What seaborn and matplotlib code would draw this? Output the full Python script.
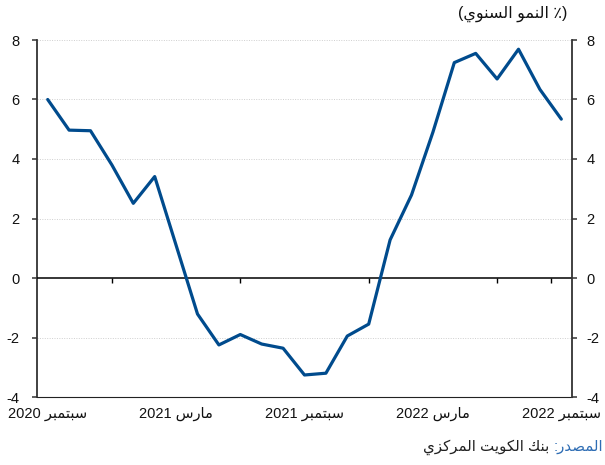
import re
import numpy as np
import pandas as pd
import matplotlib
matplotlib.use("Agg")
import matplotlib.pyplot as plt
import seaborn as sns

# ---------------- data ----------------
months = ["2020-09", "2020-10", "2020-11", "2020-12", "2021-01", "2021-02",
          "2021-03", "2021-04", "2021-05", "2021-06", "2021-07", "2021-08",
          "2021-09", "2021-10", "2021-11", "2021-12", "2022-01", "2022-02",
          "2022-03", "2022-04", "2022-05", "2022-06", "2022-07", "2022-08",
          "2022-09"]
growth = [6.0, 4.97, 4.95, 3.8, 2.51, 3.41, 1.1, -1.21, -2.25, -1.9, -2.22,
          -2.36, -3.26, -3.2, -1.95, -1.55, 1.28, 2.79, 4.9, 7.24, 7.55, 6.69,
          7.69, 6.34, 5.34]
tick_months = ["2020-09", "2021-03", "2021-09", "2022-03", "2022-09"]
tick_labels = ["سبتمبر 2020", "مارس 2021", "سبتمبر 2021", "مارس 2022", "سبتمبر 2022"]
y_ticks = [-4, -2, 0, 2, 4, 6, 8]
title_text = "(٪ النمو السنوي)"
source_label = "المصدر:"
source_text = "بنك الكويت المركزي"

# ------------- minimal Arabic shaping + RTL ordering -------------
FORMS = {
    "\u0627": ("\uFE8D", "\uFE8E", None, None),
    "\u0628": ("\uFE8F", "\uFE90", "\uFE91", "\uFE92"),
    "\u062A": ("\uFE95", "\uFE96", "\uFE97", "\uFE98"),
    "\u062F": ("\uFEA9", "\uFEAA", None, None),
    "\u0631": ("\uFEAD", "\uFEAE", None, None),
    "\u0632": ("\uFEAF", "\uFEB0", None, None),
    "\u0633": ("\uFEB1", "\uFEB2", "\uFEB3", "\uFEB4"),
    "\u0635": ("\uFEB9", "\uFEBA", "\uFEBB", "\uFEBC"),
    "\u0643": ("\uFED9", "\uFEDA", "\uFEDB", "\uFEDC"),
    "\u0644": ("\uFEDD", "\uFEDE", "\uFEDF", "\uFEE0"),
    "\u0645": ("\uFEE1", "\uFEE2", "\uFEE3", "\uFEE4"),
    "\u0646": ("\uFEE5", "\uFEE6", "\uFEE7", "\uFEE8"),
    "\u0648": ("\uFEED", "\uFEEE", None, None),
    "\u064A": ("\uFEF1", "\uFEF2", "\uFEF3", "\uFEF4"),
}


def shape(s):
    out = []
    for i, ch in enumerate(s):
        if ch not in FORMS:
            out.append(ch)
            continue
        prev = s[i - 1] if i > 0 else ""
        nxt = s[i + 1] if i + 1 < len(s) else ""
        p = prev in FORMS and FORMS[prev][2] is not None
        n = nxt in FORMS and FORMS[ch][2] is not None
        iso, fin, ini, med = FORMS[ch]
        if p and n:
            out.append(med)
        elif p:
            out.append(fin)
        elif n:
            out.append(ini)
        else:
            out.append(iso)
    return "".join(out)


def visual(s):
    shaped = shape(s)
    runs = re.findall(r"[0-9A-Za-z.]+|[^0-9A-Za-z.]+", shaped)
    mirror = {"(": ")", ")": "("}
    res = []
    for r in reversed(runs):
        if re.match(r"[0-9A-Za-z.]", r):
            res.append(r)
        else:
            res.append("".join(mirror.get(c, c) for c in reversed(r)))
    return "".join(res)


# ---------------- style ----------------
sns.set_theme(style="white")
plt.rcParams["font.family"] = ["Liberation Sans", "DejaVu Sans"]
plt.rcParams["axes.unicode_minus"] = False

df = pd.DataFrame({"month": months, "growth": growth})
df["pos"] = np.arange(len(df))

fig = plt.figure(figsize=(6.05, 4.65), dpi=100)
ax = fig.add_axes([37 / 605, 1 - 397 / 465, (572 - 37) / 605, (397 - 40) / 465])

sns.lineplot(data=df, x="pos", y="growth", ax=ax, color="#004B8D",
             linewidth=2.3, zorder=4)

ax.set_xlim(-0.5, len(df) - 0.5)
ax.set_ylim(min(y_ticks), max(y_ticks))
ax.set_yticks(y_ticks)
ax.set_yticklabels([str(v) for v in y_ticks])

# gridlines
for v in y_ticks:
    if v not in (0, min(y_ticks)):
        ax.axhline(v, color="#cfcfcf", lw=0.7, ls=(0, (1, 1.5)), zorder=1)
ax.axhline(0, color="black", lw=1.1, zorder=3)

# category separators on zero line
pos_of = {m: i for i, m in enumerate(months)}
tick_pos = [pos_of[m] for m in tick_months]
sep = [(a + b) / 2 for a, b in zip(tick_pos[:-1], tick_pos[1:])] + [tick_pos[-1] - 0.5]
ax.vlines(sep, 0, -0.17, color="black", lw=1.0, zorder=3)

ax.set_xticks(tick_pos)
ax.set_xticklabels([visual(t) for t in tick_labels], fontsize=10.5, color="#111111")
ax.tick_params(axis="x", length=0, pad=7)
ax.tick_params(axis="y", length=3.5, width=1.1, color="#333333", pad=9,
               labelsize=10.5, labelcolor="#111111", direction="out", left=True)
ax.set_xlabel("")
ax.set_ylabel("")

for side in ("top", "right"):
    ax.spines[side].set_visible(False)
ax.spines["left"].set_color("#333333")
ax.spines["left"].set_linewidth(1.3)
ax.spines["bottom"].set_color("#222222")
ax.spines["bottom"].set_linewidth(0.8)

ax2 = ax.twinx()
ax2.set_ylim(ax.get_ylim())
ax2.set_yticks(y_ticks)
ax2.set_yticklabels([str(v) for v in y_ticks])
ax2.tick_params(axis="y", length=3.5, width=1.1, color="#333333", pad=7,
                labelsize=10.5, labelcolor="#111111", direction="out", right=True)
for side in ("top", "left", "bottom"):
    ax2.spines[side].set_visible(False)
ax2.spines["right"].set_color("#333333")
ax2.spines["right"].set_linewidth(1.3)
ax2.grid(False)
ax.grid(False)

# title (units)
fig.text(567 / 605, 1 - 14 / 465, visual(title_text), ha="right", va="center",
         fontsize=11.5, color="#111111")

# source
lab = fig.text(603 / 605, 1 - 447 / 465, visual(source_label), ha="right",
               va="center", fontsize=10.8, color="#2E6DB4")
fig.canvas.draw()
ax.annotate(visual(source_text) + " ", xy=(0, 0.5), xycoords=lab,
            ha="right", va="center", fontsize=10.8, color="#222222",
            annotation_clip=False)

fig.savefig("out.png", dpi=100)
